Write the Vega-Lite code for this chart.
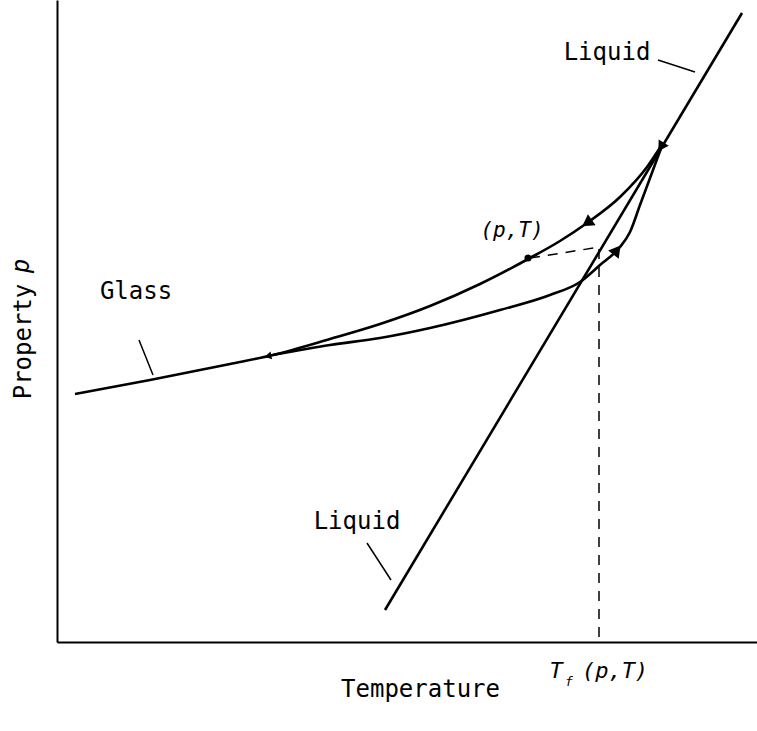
{
  "$schema": "https://vega.github.io/schema/vega-lite/v6.json",
  "width": 700,
  "height": 642,
  "autosize": {"type": "none"},
  "padding": {"left": 57, "top": 0, "right": 0, "bottom": 89},
  "background": "white",
  "config": {
    "view": {"stroke": null},
    "font": "DejaVu Sans Mono",
    "axis": {
      "domain": true, "domainColor": "black", "domainWidth": 2,
      "ticks": false, "labels": false, "grid": false,
      "titleFont": "DejaVu Sans Mono", "titleFontSize": 24, "titleFontWeight": "normal",
      "titleColor": "black", "titleAlign": "center", "titleBaseline": "middle"
    }
  },
  "datasets": {
    "curves": [
      {"id": "cool", "i": 0, "T": 18, "P": 248},
      {"id": "cool", "i": 1, "T": 93, "P": 262},
      {"id": "cool", "i": 2, "T": 173, "P": 278},
      {"id": "cool", "i": 3, "T": 216, "P": 287},
      {"id": "cool", "i": 4, "T": 273, "P": 303},
      {"id": "cool", "i": 5, "T": 323, "P": 318},
      {"id": "cool", "i": 6, "T": 373, "P": 336},
      {"id": "cool", "i": 7, "T": 423, "P": 358},
      {"id": "cool", "i": 8, "T": 473, "P": 384},
      {"id": "cool", "i": 9, "T": 503, "P": 401},
      {"id": "cool", "i": 10, "T": 530, "P": 419},
      {"id": "cool", "i": 11, "T": 563, "P": 445},
      {"id": "cool", "i": 12, "T": 590, "P": 475},
      {"id": "cool", "i": 13, "T": 606, "P": 499},
      {"id": "heat", "i": 0, "T": 216, "P": 287},
      {"id": "heat", "i": 1, "T": 273, "P": 297},
      {"id": "heat", "i": 2, "T": 323, "P": 304},
      {"id": "heat", "i": 3, "T": 373, "P": 314},
      {"id": "heat", "i": 4, "T": 443, "P": 332},
      {"id": "heat", "i": 5, "T": 493, "P": 347},
      {"id": "heat", "i": 6, "T": 523, "P": 360},
      {"id": "heat", "i": 7, "T": 543, "P": 377},
      {"id": "heat", "i": 8, "T": 563, "P": 395},
      {"id": "heat", "i": 9, "T": 573, "P": 410},
      {"id": "heat", "i": 10, "T": 583, "P": 437},
      {"id": "heat", "i": 11, "T": 596, "P": 472},
      {"id": "heat", "i": 12, "T": 606, "P": 499},
      {"id": "liquid", "i": 0, "T": 328, "P": 32},
      {"id": "liquid", "i": 1, "T": 685, "P": 629}
    ],
    "leaders": [
      {"id": "glass", "i": 0, "T": 82, "P": 302},
      {"id": "glass", "i": 1, "T": 96, "P": 267},
      {"id": "liqlow", "i": 0, "T": 310, "P": 99},
      {"id": "liqlow", "i": 1, "T": 334, "P": 62},
      {"id": "liqup", "i": 0, "T": 601, "P": 582},
      {"id": "liqup", "i": 1, "T": 638, "P": 570}
    ],
    "dashes": [
      {"id": "h", "i": 0, "T": 473, "P": 384},
      {"id": "h", "i": 1, "T": 543, "P": 395},
      {"id": "v", "i": 0, "T": 542, "P": 393},
      {"id": "v", "i": 1, "T": 542, "P": 0}
    ],
    "arrows": [
      {"id": "coolmid", "T": 530, "P": 419},
      {"id": "heatmid", "T": 560, "P": 392},
      {"id": "cooltop", "T": 604, "P": 495},
      {"id": "glass", "T": 211, "P": 286}
    ],
    "points": [{"T": 471, "P": 384}],
    "labels": [
      {"text": "Glass", "kind": "plain", "T": 79, "P": 350},
      {"text": "Liquid", "kind": "plain", "T": 300, "P": 120},
      {"text": "Liquid", "kind": "plain", "T": 550, "P": 589},
      {"text": "(p,T)", "kind": "state", "T": 455, "P": 411},
      {"text": "T", "kind": "tf", "T": 499, "P": -29},
      {"text": "(p,T)", "kind": "tf", "T": 558, "P": -29},
      {"text": "f", "kind": "sub", "T": 512, "P": -40},
      {"text": "p", "kind": "axisp", "T": -35, "P": 376}
    ]
  },
  "encoding": {
    "x": {
      "field": "T", "type": "quantitative",
      "scale": {"domain": [0, 700], "nice": false, "zero": false},
      "axis": {"title": "Temperature", "titleX": 363, "titleY": 47}
    },
    "y": {
      "field": "P", "type": "quantitative",
      "scale": {"domain": [0, 642], "nice": false, "zero": false},
      "axis": {"title": "Property", "titleX": -34, "titleY": 341, "titleAngle": 270}
    }
  },
  "layer": [
    {
      "data": {"name": "curves"},
      "mark": {"type": "line", "stroke": "black", "strokeWidth": 2.6, "interpolate": "monotone"},
      "encoding": {"detail": {"field": "id"}, "order": {"field": "i", "type": "quantitative"}}
    },
    {
      "data": {"name": "leaders"},
      "mark": {"type": "line", "stroke": "black", "strokeWidth": 1.5},
      "encoding": {"detail": {"field": "id"}, "order": {"field": "i", "type": "quantitative"}}
    },
    {
      "data": {"name": "dashes"},
      "mark": {"type": "line", "stroke": "black", "strokeWidth": 1.5, "strokeDash": [10, 8]},
      "encoding": {"detail": {"field": "id"}, "order": {"field": "i", "type": "quantitative"}}
    },
    {
      "data": {"name": "arrows"},
      "transform": [{"filter": "datum.id == 'coolmid'"}],
      "mark": {"type": "point", "shape": "triangle-up", "filled": true, "color": "black", "opacity": 1, "size": 180, "angle": 235}
    },
    {
      "data": {"name": "arrows"},
      "transform": [{"filter": "datum.id == 'heatmid'"}],
      "mark": {"type": "point", "shape": "triangle-up", "filled": true, "color": "black", "opacity": 1, "size": 180, "angle": 38}
    },
    {
      "data": {"name": "arrows"},
      "transform": [{"filter": "datum.id == 'cooltop'"}],
      "mark": {"type": "point", "shape": "triangle-up", "filled": true, "color": "black", "opacity": 1, "size": 140, "angle": 212}
    },
    {
      "data": {"name": "arrows"},
      "transform": [{"filter": "datum.id == 'glass'"}],
      "mark": {"type": "point", "shape": "triangle-up", "filled": true, "color": "black", "opacity": 1, "size": 60, "angle": 259}
    },
    {
      "data": {"name": "points"},
      "mark": {"type": "point", "shape": "circle", "filled": true, "color": "black", "opacity": 1, "size": 50}
    },
    {
      "data": {"name": "labels"},
      "transform": [{"filter": "datum.kind == 'plain'"}],
      "mark": {"type": "text", "font": "DejaVu Sans Mono", "fontSize": 24, "color": "black", "align": "center", "baseline": "middle"},
      "encoding": {"text": {"field": "text"}}
    },
    {
      "data": {"name": "labels"},
      "transform": [{"filter": "datum.kind == 'axisp'"}],
      "mark": {"type": "text", "font": "DejaVu Sans Mono", "fontStyle": "italic", "fontSize": 24, "color": "black", "align": "center", "baseline": "middle", "angle": 270},
      "encoding": {"text": {"field": "text"}}
    },
    {
      "data": {"name": "labels"},
      "transform": [{"filter": "datum.kind == 'state'"}],
      "mark": {"type": "text", "font": "DejaVu Sans Mono", "fontStyle": "italic", "fontSize": 21, "color": "black", "align": "center", "baseline": "middle"},
      "encoding": {"text": {"field": "text"}}
    },
    {
      "data": {"name": "labels"},
      "transform": [{"filter": "datum.kind == 'tf'"}],
      "mark": {"type": "text", "font": "DejaVu Sans Mono", "fontStyle": "italic", "fontSize": 22, "color": "black", "align": "center", "baseline": "middle"},
      "encoding": {"text": {"field": "text"}}
    },
    {
      "data": {"name": "labels"},
      "transform": [{"filter": "datum.kind == 'sub'"}],
      "mark": {"type": "text", "font": "DejaVu Sans Mono", "fontStyle": "italic", "fontSize": 13, "color": "black", "align": "center", "baseline": "middle"},
      "encoding": {"text": {"field": "text"}}
    }
  ]
}
